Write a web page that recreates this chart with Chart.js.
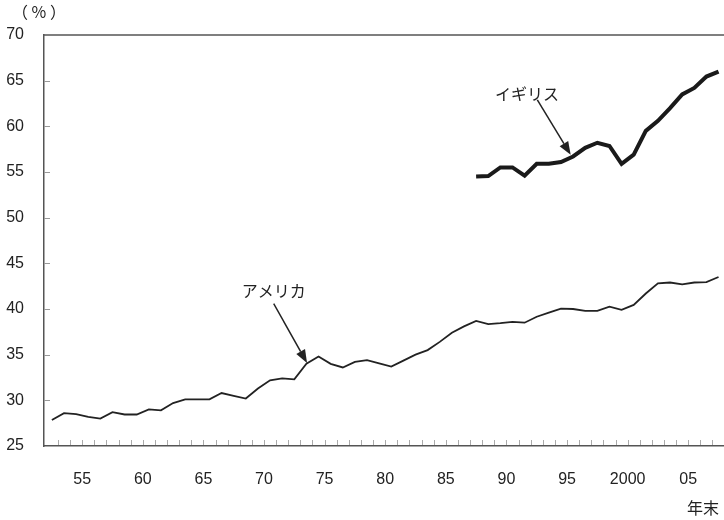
<!DOCTYPE html>
<html>
<head>
<meta charset="utf-8">
<script src="https://cdn.jsdelivr.net/npm/chart.js@4"></script>
<style>
  html, body { margin: 0; padding: 0; background: #fff; }
</style>
</head>
<body>
<canvas id="chart" width="724" height="520"></canvas>
<script>
// Data (year-end values, %)
const usYears = [];
for (let y = 1952; y <= 2007; y++) usYears.push(y);
const usValues = [
    27.85, 28.6, 28.5, 28.2, 28.0, 28.7, 28.45, 28.45, 29.0, 28.9,
    29.7, 30.1, 30.1, 30.1, 30.8, 30.5, 30.2, 31.3, 32.2, 32.4,
    32.3, 34.0, 34.8, 34.0, 33.6, 34.2, 34.4, 34.05, 33.7, 34.35,
    35.0, 35.5, 36.4, 37.4, 38.1, 38.7, 38.35, 38.45, 38.6, 38.5,
    39.15, 39.6, 40.05, 40.0, 39.8, 39.8, 40.25, 39.9, 40.45, 41.7,
    42.8, 42.9, 42.7, 42.9, 42.95, 43.5
];
const ukYears = [];
for (let y = 1987; y <= 2007; y++) ukYears.push(y);
const ukValues = [
    54.5, 54.55, 55.5, 55.5, 54.6, 55.9, 55.9, 56.1, 56.7, 57.65,
    58.2, 57.85, 55.9, 56.9, 59.5, 60.6, 62.0, 63.5, 64.2, 65.45, 66.0
];
const xTickYears = [1955, 1960, 1965, 1970, 1975, 1980, 1985, 1990, 1995, 2000, 2005];
const xTickLabels = ['55', '60', '65', '70', '75', '80', '85', '90', '95', '2000', '05'];
const yTicks = [25, 30, 35, 40, 45, 50, 55, 60, 65, 70];

const JP_FONT = '"Noto Sans CJK JP", sans-serif';
const NUM_FONT = '"Liberation Sans", Arial, sans-serif';

// annotations: label position and arrow in data coordinates
const annotations = [
    { text: 'アメリカ', label: [1970.8, 42.0], from: [1970.8, 40.6], to: [1973.55, 34.1] },
    { text: 'イギリス', label: [1991.7, 63.6], from: [1992.55, 62.9], to: [1995.3, 56.9] }
];

// year-end points sit in the middle of each year slot
const toPoints = (years, values) => years.map((y, i) => ({ x: y + 0.5, y: values[i] }));

const decorPlugin = {
    id: 'decor',
    afterDraw(chart) {
        const ctx = chart.ctx;
        const xs = chart.scales.x;
        const ys = chart.scales.y;
        const area = chart.chartArea;
        ctx.save();

        // top frame line
        ctx.strokeStyle = '#555';
        ctx.lineWidth = 1.5;
        ctx.beginPath();
        ctx.moveTo(area.left, area.top);
        ctx.lineTo(area.right, area.top);
        ctx.stroke();

        // inner ticks on y axis
        ctx.strokeStyle = '#999';
        ctx.lineWidth = 1;
        yTicks.forEach(v => {
            if (v === 25 || v === 70) return;
            const py = Math.round(ys.getPixelForValue(v)) + 0.5;
            ctx.beginPath();
            ctx.moveTo(area.left, py);
            ctx.lineTo(area.left + 6, py);
            ctx.stroke();
        });

        // yearly ticks on x axis
        ctx.strokeStyle = '#aaa';
        for (let yr = 1953; yr <= 2007; yr++) {
            const px = Math.round(xs.getPixelForValue(yr)) + 0.5;
            ctx.beginPath();
            ctx.moveTo(px, area.bottom - 1);
            ctx.lineTo(px, area.bottom - 6);
            ctx.stroke();
        }

        // unit labels
        ctx.fillStyle = '#222';
        ctx.font = '16px ' + JP_FONT;
        ctx.textBaseline = 'middle';
        ctx.textAlign = 'left';
        ctx.fillText('（ % ）', 12, 12);
        ctx.fillText('年末', 687, 508);

        // series labels with arrows
        annotations.forEach(a => {
            const lx = xs.getPixelForValue(a.label[0]);
            const ly = ys.getPixelForValue(a.label[1]);
            ctx.textAlign = 'center';
            ctx.fillText(a.text, lx, ly);

            const x1 = xs.getPixelForValue(a.from[0]);
            const y1 = ys.getPixelForValue(a.from[1]);
            const x2 = xs.getPixelForValue(a.to[0]);
            const y2 = ys.getPixelForValue(a.to[1]);
            const ang = Math.atan2(y2 - y1, x2 - x1);
            const headLen = 13, headW = 5;
            const bx = x2 - headLen * Math.cos(ang);
            const by = y2 - headLen * Math.sin(ang);
            ctx.strokeStyle = '#222';
            ctx.lineWidth = 1.5;
            ctx.beginPath();
            ctx.moveTo(x1, y1);
            ctx.lineTo(bx, by);
            ctx.stroke();
            ctx.beginPath();
            ctx.moveTo(x2, y2);
            ctx.lineTo(bx + headW * Math.sin(ang), by - headW * Math.cos(ang));
            ctx.lineTo(bx - headW * Math.sin(ang), by + headW * Math.cos(ang));
            ctx.closePath();
            ctx.fill();
        });

        ctx.restore();
    }
};

new Chart(document.getElementById('chart').getContext('2d'), {
    type: 'line',
    data: {
        datasets: [
            {
                label: 'アメリカ',
                data: toPoints(usYears, usValues),
                borderColor: '#222',
                borderWidth: 1.8,
                pointRadius: 0,
                tension: 0,
                fill: false
            },
            {
                label: 'イギリス',
                data: toPoints(ukYears, ukValues),
                borderColor: '#1a1a1a',
                borderWidth: 4,
                pointRadius: 0,
                tension: 0,
                fill: false
            }
        ]
    },
    options: {
        responsive: false,
        animation: false,
        devicePixelRatio: 1,
        layout: { padding: { top: 35, right: 0, left: 0, bottom: 0 } },
        plugins: {
            legend: { display: false },
            tooltip: { enabled: false }
        },
        scales: {
            x: {
                type: 'linear',
                min: 1951.85,
                max: 2007.95,
                afterFit: s => { s.height = 74; },
                afterBuildTicks: s => { s.ticks = xTickYears.map(v => ({ value: v })); },
                grid: { display: false, drawTicks: false },
                border: { display: true, color: '#555', width: 1.5 },
                ticks: {
                    padding: 24,
                    maxRotation: 0,
                    autoSkip: false,
                    color: '#222',
                    font: { family: NUM_FONT, size: 16 },
                    callback: v => xTickLabels[xTickYears.indexOf(v)]
                }
            },
            y: {
                min: 25,
                max: 70,
                afterFit: s => { s.width = 44; },
                afterBuildTicks: s => { s.ticks = yTicks.map(v => ({ value: v })); },
                grid: { display: false, drawTicks: false },
                border: { display: true, color: '#555', width: 1.5 },
                ticks: {
                    padding: 20,
                    color: '#222',
                    font: { family: NUM_FONT, size: 16 }
                }
            }
        }
    },
    plugins: [decorPlugin]
});
</script>
</body>
</html>
